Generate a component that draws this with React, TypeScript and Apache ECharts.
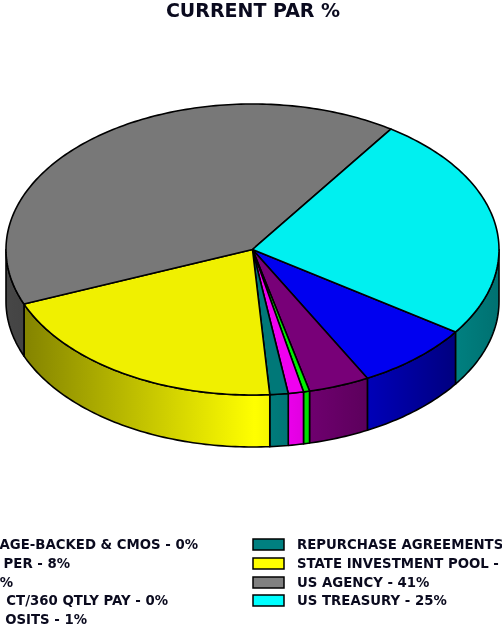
import React, { useEffect, useRef } from "react";
import * as echarts from "echarts";

const titleText = "CURRENT PAR %";
const sliceNames = ["Mortgage-backed & CMOs", "Commercial paper", "Purple slice", "ACT/360 qtly pay", "Deposits", "Repurchase agreements", "State investment pool", "US agency", "US treasury"];
const sliceValues = [0, 7.7, 4, 0.4, 1, 1.2, 20, 40.6, 25.1];
const sliceColors = ["#800000", "#0000ff", "#800080", "#00ff00", "#ff00ff", "#008080", "#ffff00", "#808080", "#00ffff"];
// Legend texts exactly as far as the reference's frame shows them.
const leftLegendTexts = ["AGE-BACKED & CMOS - 0%", "PER - 8%", "%", "CT/360 QTLY PAY - 0%", "OSITS - 1%"];
const rightLegendTexts = ["REPURCHASE AGREEMENTS", "STATE INVESTMENT POOL -", "US AGENCY - 41%", "US TREASURY - 25%"];
const rightLegendColors = ["#008080", "#ffff00", "#808080", "#00ffff"];

const CX = 252.5, CY = 249.5, RX = 246.5, RY = 145.5, DEPTH = 52;
const START_DEG = 34.5;
const TOP_SHADE = 0.94;
const shadeX = [0, 27, 255, 368, 455, 502];
const shadeF = [0.56, 0.52, 1, 0.72, 0.5, 0.44];

const LEFT_ENDS = [198, 70, 13, 168, 87];
const ROW_Y = [544, 563, 582, 600, 619];
const SWATCH_X = 253, TEXT_X = 297;

function scale(hex: string, f: number) {
  const n = parseInt(hex.slice(1), 16);
  const c = [(n >> 16) & 255, (n >> 8) & 255, n & 255].map((v) => Math.round(v * f));
  return `rgb(${c[0]},${c[1]},${c[2]})`;
}
const total = sliceValues.reduce((a, b) => a + b, 0);
function pt(deg: number, dy = 0): number[] {
  const t = (deg * Math.PI) / 180;
  return [CX + RX * Math.cos(t), CY + RY * Math.sin(t) + dy];
}
function arc(a: number, b: number, dy = 0): number[][] {
  const n = Math.max(2, Math.ceil(Math.abs(b - a)));
  const out: number[][] = [];
  for (let i = 0; i <= n; i++) out.push(pt(a + ((b - a) * i) / n, dy));
  return out;
}

function renderSlice(params: any, api: any) {
  const i = params.dataIndex;
  const v = api.value(0);
  if (v <= 0) return { type: "group", children: [] };
  let before = 0;
  for (let k = 0; k < i; k++) before += sliceValues[k];
  const a0 = START_DEG + (before / total) * 360;
  const a1 = a0 + (v / total) * 360;
  const color = sliceColors[i];
  const edge = { stroke: "#000", lineWidth: 1.6, lineJoin: "round" };
  const children: any[] = [];
  const fill = new echarts.graphic.LinearGradient(
    0, 0, 502, 0,
    shadeX.map((x, k) => ({ offset: x / 502, color: scale(color, shadeF[k]) })),
    true
  );
  // The visible rim is the front half of the disc (0..180 degrees, and again 360..540).
  [0, 360].forEach((base) => {
    const w0 = Math.max(a0, base), w1 = Math.min(a1, base + 180);
    if (w1 > w0) {
      children.push({
        type: "polygon",
        shape: { points: [...arc(w0, w1), ...arc(w1, w0, DEPTH)] },
        style: { fill, ...edge },
      });
    }
  });
  children.push({
    type: "polygon",
    shape: { points: [[CX, CY], ...arc(a0, a1)] },
    style: { fill: scale(color, TOP_SHADE), ...edge },
  });
  return { type: "group", children };
}

const font = { fontFamily: "'DejaVu Sans'", fontWeight: "bold" as const, fontSize: 13.3, fill: "#0a0a1e" };

function legendGraphics() {
  const out: any[] = [];
  leftLegendTexts.forEach((text, i) => {
    out.push({ type: "text", x: LEFT_ENDS[i], y: ROW_Y[i], style: { ...font, text, textAlign: "right", textVerticalAlign: "middle" } });
  });
  rightLegendTexts.forEach((text, i) => {
    const y = ROW_Y[i];
    out.push({ type: "rect", shape: { x: SWATCH_X, y: y - 5, width: 31, height: 11 }, style: { fill: rightLegendColors[i], stroke: "#000", lineWidth: 1.5 } });
    out.push({ type: "text", x: TEXT_X, y, style: { ...font, text, textAlign: "left", textVerticalAlign: "middle" } });
  });
  return out;
}

export default function App() {
  const ref = useRef<HTMLDivElement>(null);
  useEffect(() => {
    document.body.style.margin = "0";
    document.body.style.overflow = "hidden";
    const chart = echarts.init(ref.current!, undefined, { renderer: "svg" });
    chart.setOption({
      animation: false,
      backgroundColor: "#fff",
      series: [{
        type: "custom",
        coordinateSystem: "none",
        renderItem: renderSlice,
        data: sliceValues.map((v, i) => ({ name: sliceNames[i], value: [v] })),
        silent: true,
      }],
      graphic: [
        { type: "text", x: 253, y: 9.6, style: { ...font, fontSize: 19, text: titleText, textAlign: "center", textVerticalAlign: "middle" } },
        ...legendGraphics(),
      ],
    });
    return () => chart.dispose();
  }, []);
  return <div ref={ref} style={{ width: 502, height: 627, filter: "blur(0.4px)" }} />;
}
